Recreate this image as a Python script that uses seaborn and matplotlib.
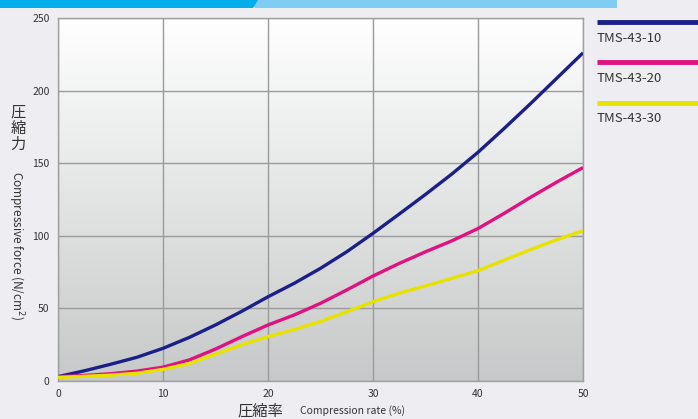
import numpy as np
import pandas as pd
import matplotlib.pyplot as plt
import seaborn as sns
from matplotlib.patches import Polygon
from matplotlib.lines import Line2D

# ==========================================================
# data
# ==========================================================
rate = [0, 2.5, 5, 7.5, 10, 12.5, 15, 17.5, 20, 22.5, 25,
        27.5, 30, 32.5, 35, 37.5, 40, 42.5, 45, 47.5, 50]
tms10 = [3, 7, 11.5, 16.3, 22.5, 30, 38.6, 48, 58, 67.3, 77.6,
         89, 101.7, 115, 128.5, 142.5, 157.5, 174, 191, 208.5, 226]
tms20 = [3, 3.8, 5, 6.8, 9.5, 14.5, 22, 30.5, 38.6, 45.5, 53.5,
         62.7, 72.3, 81, 89, 96.5, 105, 115.5, 126.5, 137, 147]
tms30 = [2.5, 3.2, 4, 5.3, 8, 12, 18.5, 25, 30.5, 35.5, 41,
         47.7, 54.6, 60.5, 65.5, 70.7, 76, 83.3, 90.5, 97.3, 103.5]
series_names = ["TMS-43-10", "TMS-43-20", "TMS-43-30"]
colors = ["#1c1f88", "#e0127f", "#e8e200"]
x_ticks = [0, 10, 20, 30, 40, 50]
y_ticks = [0, 50, 100, 150, 200, 250]

df = pd.DataFrame({"rate": rate, series_names[0]: tms10,
                   series_names[1]: tms20, series_names[2]: tms30})
long_df = df.melt(id_vars="rate", var_name="series", value_name="force")

sns.set_style("white")
plt.rcParams["font.family"] = ["Noto Sans CJK JP", "DejaVu Sans"]

fig = plt.figure(figsize=(6.98, 4.19), dpi=100)
fig.patch.set_facecolor("#eeedf2")
ax = fig.add_axes([58 / 698, 38 / 419, 525 / 698, 363 / 419])

# gradient background of the plot area
grad = np.linspace(1, 0, 256).reshape(-1, 1)
top = np.array([1.0, 1.0, 1.0])
bot = np.array([0.78, 0.79, 0.79])
img = top * grad[..., None] + bot * (1 - grad[..., None])
ax.imshow(img, extent=[0, 1, 0, 1], transform=ax.transAxes, aspect="auto", zorder=0)

sns.lineplot(data=long_df, x="rate", y="force", hue="series", palette=colors,
             linewidth=2.4, ax=ax, legend=False, zorder=3)
for ln in ax.get_lines():
    ln.set_solid_capstyle("butt")
    ln.set_solid_joinstyle("round")

ax.set_xlim(0, 50)
ax.set_ylim(0, 250)
ax.set_xticks(x_ticks)
ax.set_yticks(y_ticks)
ax.grid(True, color="#9a9a9a", linewidth=1, zorder=1)
for ln in ax.get_xgridlines() + ax.get_ygridlines():
    ln.set_zorder(1)
for sp in ax.spines.values():
    sp.set_color("#a0a0a0")
    sp.set_linewidth(1)
ax.tick_params(axis="both", length=4, width=1, color="#a0a0a0", labelsize=7.5,
               labelcolor="#333333", pad=2)
ax.set_xlabel("")
ax.set_ylabel("")

# axis titles
fig.text(18 / 698, 1 - 128 / 419, "圧\n縮\n力", fontsize=11, color="#333333",
         ha="center", va="center", linespacing=0.95)
fig.text(16 / 698, 1 - 246 / 419, "Compressive force (N/cm$^2$)", fontsize=8.5,
         color="#333333", rotation=270, ha="center", va="center")
fig.text(260 / 698, 1 - 411 / 419, "圧縮率", fontsize=11, color="#333333",
         ha="center", va="center")
fig.text(353 / 698, 1 - 411 / 419, "Compression rate (%)", fontsize=7.5,
         color="#333333", ha="center", va="center")

# legend drawn at the right margin
leg_y = [22, 62, 103]
for name, c, yy in zip(series_names, colors, leg_y):
    fig.add_artist(Line2D([597 / 698, 1.0], [1 - yy / 419] * 2, color=c,
                          linewidth=3.5, solid_capstyle="butt"))
    fig.text(597 / 698, 1 - (yy + 16) / 419, name, fontsize=9.5, color="#333333",
             ha="left", va="center")

# banner on top
fig.add_artist(Polygon([[250 / 698, 1], [617 / 698, 1], [617 / 698, 1 - 8 / 419],
                        [255 / 698, 1 - 8 / 419]], closed=True,
                       facecolor="#80cdf3", edgecolor="none", transform=fig.transFigure))
fig.add_artist(Polygon([[0, 1], [258 / 698, 1], [253 / 698, 1 - 8 / 419],
                        [0, 1 - 8 / 419]], closed=True,
                       facecolor="#00aeeb", edgecolor="none", transform=fig.transFigure))

fig.savefig("out.png", dpi=100, facecolor=fig.get_facecolor())
